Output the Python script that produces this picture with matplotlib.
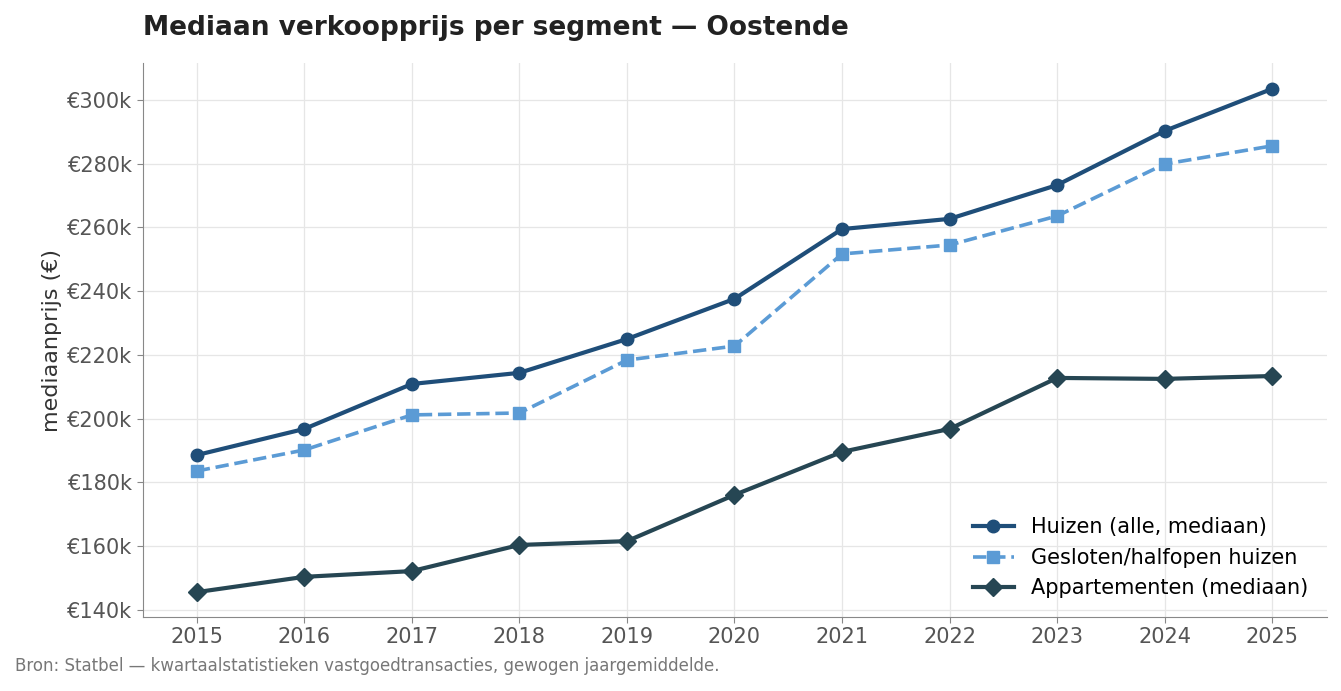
import matplotlib
matplotlib.use("Agg")
import matplotlib.pyplot as plt
from matplotlib.ticker import FuncFormatter

years = list(range(2015, 2026))
huizen = [188.6, 196.8, 210.9, 214.4, 225.0, 237.6, 259.5, 262.7, 273.3, 290.3, 303.5]
gesloten = [183.6, 190.2, 201.2, 201.8, 218.4, 222.8, 251.7, 254.5, 263.6, 279.9, 285.6]
appart = [145.6, 150.4, 152.2, 160.4, 161.6, 176.1, 189.6, 196.8, 212.8, 212.5, 213.4]

fig = plt.figure(figsize=(13.41, 6.91), dpi=100)
ax = fig.add_axes([143/1341, 1-617/691, (1327-143)/1341, (617-63)/691])

ax.plot(years, huizen, '-o', color='#1f4e79', lw=3, ms=9, label='Huizen (alle, mediaan)')
ax.plot(years, gesloten, '--s', color='#5b9bd5', lw=2.6, ms=9, label='Gesloten/halfopen huizen')
ax.plot(years, appart, '-D', color='#264653', lw=3, ms=9, label='Appartementen (mediaan)')

ax.set_xlim(2014.5, 2025.51)
ax.set_ylim(137.8, 311.6)
ax.set_xticks(years)
ax.set_yticks(range(140, 301, 20))
ax.yaxis.set_major_formatter(FuncFormatter(lambda v, p: f"€{int(v)}k"))
ax.grid(True, color='#e6e6e6', lw=0.9)
ax.set_axisbelow(True)
for s in ['top', 'right']:
    ax.spines[s].set_visible(False)
for s in ['left', 'bottom']:
    ax.spines[s].set_color('#888888')
ax.tick_params(labelsize=15, colors='#555555', length=4)
ax.tick_params(axis='both', color='#888888')
ax.set_ylabel('mediaanprijs (€)', fontsize=16, color='#333333')
ax.set_title('Mediaan verkoopprijs per segment — Oostende', fontsize=19, fontweight='bold',
             color='#222222', loc='left', pad=20)
leg = ax.legend(loc='lower right', fontsize=15, frameon=False)
fig.text(15/1341, 1-666/691, 'Bron: Statbel — kwartaalstatistieken vastgoedtransacties, gewogen jaargemiddelde.',
         fontsize=12, color='#777777', va='center')
fig.savefig('out.png', dpi=100)
